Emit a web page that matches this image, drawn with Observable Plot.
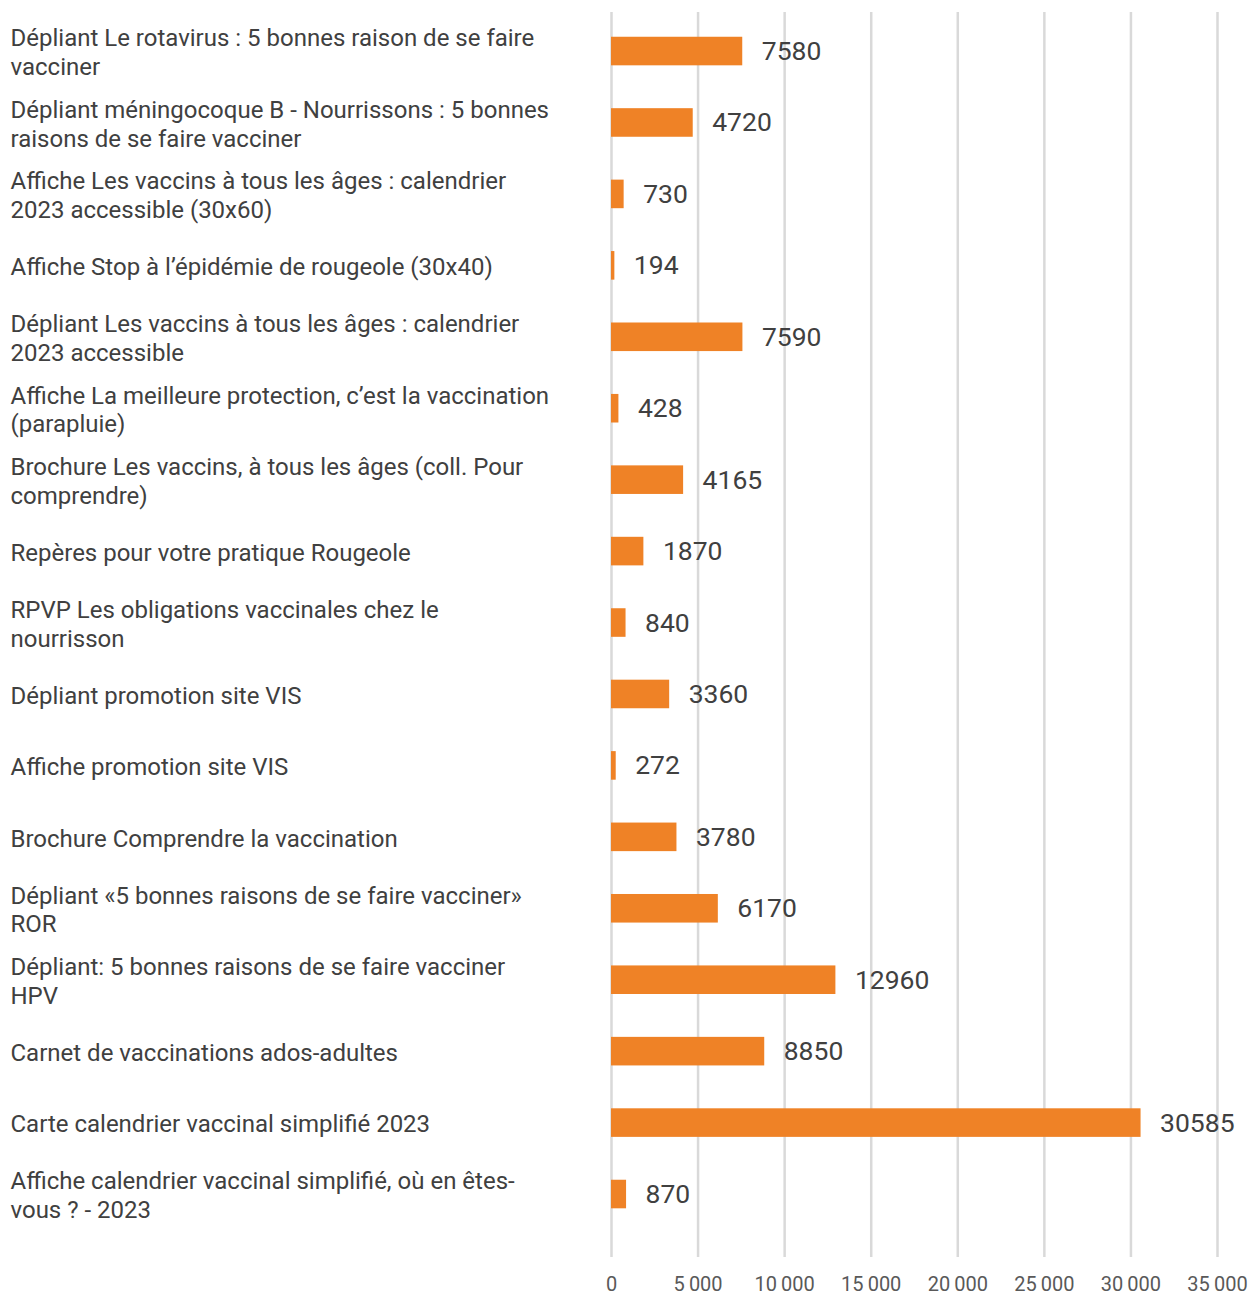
<!DOCTYPE html>
<html>
<head>
<meta charset="utf-8">
<script src="https://cdn.jsdelivr.net/npm/d3@7"></script>
<script src="https://cdn.jsdelivr.net/npm/@observablehq/plot@0.6"></script>
<style>
  html, body { margin: 0; padding: 0; background: #ffffff; }
  #chart svg { display: block; }
</style>
</head>
<body>
<div id="chart"></div>
<script>
const labels = [
  "Dépliant Le rotavirus : 5 bonnes raison de se faire\nvacciner",
  "Dépliant méningocoque B - Nourrissons : 5 bonnes\nraisons de se faire vacciner",
  "Affiche Les vaccins à tous les âges : calendrier\n2023 accessible (30x60)",
  "Affiche Stop à l’épidémie de rougeole (30x40)",
  "Dépliant Les vaccins à tous les âges : calendrier\n2023 accessible",
  "Affiche La meilleure protection, c’est la vaccination\n(parapluie)",
  "Brochure Les vaccins, à tous les âges (coll. Pour\ncomprendre)",
  "Repères pour votre pratique Rougeole",
  "RPVP Les obligations vaccinales chez le\nnourrisson",
  "Dépliant promotion site VIS",
  "Affiche promotion site VIS",
  "Brochure Comprendre la vaccination",
  "Dépliant «5 bonnes raisons de se faire vacciner»\nROR",
  "Dépliant: 5 bonnes raisons de se faire vacciner\nHPV",
  "Carnet de vaccinations ados-adultes",
  "Carte calendrier vaccinal simplifié 2023",
  "Affiche calendrier vaccinal simplifié, où en êtes-\nvous ? - 2023"
];
const values = [7580, 4720, 730, 194, 7590, 428, 4165, 1870, 840, 3360, 272, 3780, 6170, 12960, 8850, 30585, 870];
const xTicks = [0, 5000, 10000, 15000, 20000, 25000, 30000, 35000];

const data = labels.map((name, i) => ({name, value: values[i]}));
const fmt = d => d3.format(",")(d).replace(/,/g, "\u2009");

const chart = Plot.plot({
  width: 1250,
  height: 1295,
  marginLeft: 611,
  marginRight: 33,
  marginTop: 12,
  marginBottom: 38,
  style: {fontFamily: "Roboto, sans-serif", background: "#ffffff"},
  x: {domain: [0, 35000]},
  y: {domain: labels, paddingInner: 0.6, paddingOuter: 0.514, align: 0.337, round: false, axis: null},
  marks: [
    Plot.gridX(xTicks, {stroke: "#d9d9d9", strokeWidth: 2.5, strokeOpacity: 1}),
    Plot.axisX(xTicks, {tickSize: 0, tickPadding: 19, fontSize: 20, color: "#595959", tickFormat: fmt, label: null}),
    Plot.barX(data, {x: "value", y: "name", fill: "#EF8226"}),
    Plot.text(data, {x: "value", y: "name", text: d => String(d.value), dx: 19, textAnchor: "start", fontSize: 26.5, fill: "#404040"}),
    Plot.text(data, {y: "name", text: "name", frameAnchor: "left", textAnchor: "start", dx: -601, fontSize: 24, fill: "#404040", lineHeight: 1.2})
  ]
});
document.getElementById("chart").appendChild(chart);
</script>
</body>
</html>
